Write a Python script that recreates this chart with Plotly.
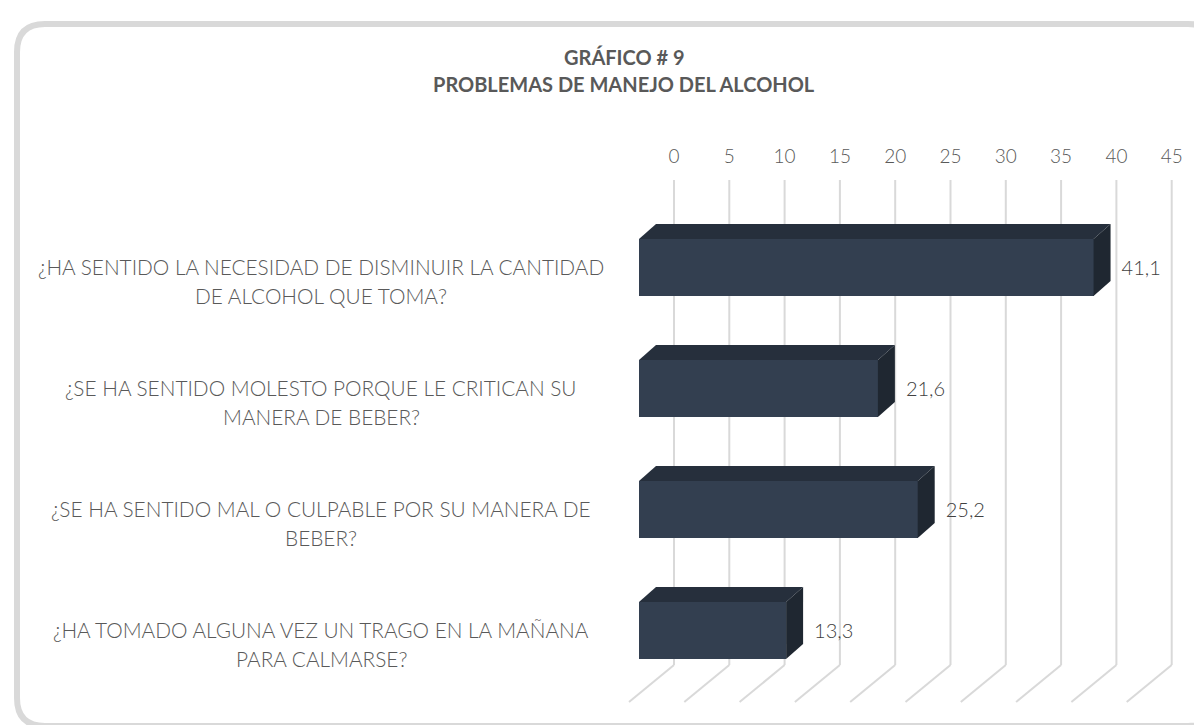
import plotly.graph_objects as go

# ---------------- data ----------------
categories = [
    "¿HA SENTIDO LA NECESIDAD DE DISMINUIR LA CANTIDAD<br>DE ALCOHOL QUE TOMA?",
    "¿SE HA SENTIDO MOLESTO PORQUE LE CRITICAN SU<br>MANERA DE BEBER?",
    "¿SE HA SENTIDO MAL O CULPABLE POR SU MANERA DE<br>BEBER?",
    "¿HA TOMADO ALGUNA VEZ UN TRAGO EN LA MAÑANA<br>PARA CALMARSE?",
]
values = [41.1, 21.6, 25.2, 13.3]
value_labels = ["41,1", "21,6", "25,2", "13,3"]
tick_values = [0, 5, 10, 15, 20, 25, 30, 35, 40, 45]
title_line1 = "GRÁFICO # 9"
title_line2 = "PROBLEMAS DE MANEJO DEL ALCOHOL"

# ---------------- geometry (pixel based pseudo-3D) ----------------
W, H = 1202, 725
TOP = 160                 # plot area top (px)
PXU = 11.06               # px per value unit on back wall
X0 = 666                  # px of value 0 on back wall
ROWPX = 121               # px between categories
ROW0 = 259.5              # px centre of first bar front face

def ux(px):
    return px / PXU

def uy(px):
    return px / ROWPX

xr = [(0 - X0) / PXU, (W - X0) / PXU]
yr = [(H - ROW0) / ROWPX, (TOP - ROW0) / ROWPX]

FONT = "Lato, 'Open Sans', sans-serif"
GRID = "#D9D9D9"
FRONT = "#333F50"
TOPC = "#262F3C"
SIDE = "#1F2731"
TXT = "#595959"

rows = list(range(len(values)))

fig = go.Figure()

# gridlines (drawn below traces): back wall verticals + floor diagonals
for t in tick_values:
    fig.add_shape(type="line", xref="x", yref="y", x0=t, x1=t,
                  y0=uy(172 - ROW0), y1=uy(657 - ROW0),
                  line=dict(color=GRID, width=2), layer="below")
    fig.add_shape(type="line", xref="x", yref="y", x0=t, x1=t - ux(45),
                  y0=uy(657 - ROW0), y1=uy(694 - ROW0),
                  line=dict(color=GRID, width=2), layer="below")

front_base = -ux(35)
d = ux(17)
dd = uy(15)
h = uy(57) / 2

# front faces
fig.add_trace(go.Bar(orientation="h", x=values, y=rows, base=front_base, width=2 * h,
                     marker=dict(color=FRONT, line=dict(width=0)), showlegend=False,
                     hoverinfo="skip"))

# top & side faces
for r, v in zip(rows, values):
    fl = front_base
    fig.add_trace(go.Scatter(
        x=[fl, fl + d, fl + d + v, fl + v, fl],
        y=[r - h, r - h - dd, r - h - dd, r - h, r - h],
        mode="lines", fill="toself", fillcolor=TOPC, line=dict(width=0, color=TOPC),
        hoverinfo="skip", showlegend=False))
    fig.add_trace(go.Scatter(
        x=[fl + v, fl + v + d, fl + v + d, fl + v, fl + v],
        y=[r - h, r - h - dd, r + h - dd, r + h, r - h],
        mode="lines", fill="toself", fillcolor=SIDE, line=dict(width=0, color=SIDE),
        hoverinfo="skip", showlegend=False))

# value labels
fig.add_trace(go.Scatter(
    x=[front_base + d + v + ux(11) for v in values], y=[r + uy(2) for r in rows],
    mode="text", text=value_labels, textposition="middle right",
    textfont=dict(family=FONT, size=20, color="#404040", weight=300),
    hoverinfo="skip", showlegend=False, cliponaxis=False))

# category labels (two lines each, centred)
for r, c in zip(rows, categories):
    lines = c.split("<br>")
    for i, ln in enumerate(lines):
        fig.add_annotation(x=313 / W, xref="paper", y=r + uy(-1 + 29 * i), yref="y", text=ln,
                           showarrow=False, xanchor="center", yanchor="middle", align="center",
                           font=dict(family=FONT, size=20.8, color=TXT, weight=300))

def py(p):
    return (H - p) / (H - TOP)

fig.add_annotation(x=616 / W, xref="paper", y=py(49), yref="paper", text="<b>" + title_line1 + "</b>",
                   showarrow=False, xanchor="center", yanchor="middle",
                   font=dict(family=FONT, size=20, color=TXT))
fig.add_annotation(x=616 / W, xref="paper", y=py(76), yref="paper", text="<b>" + title_line2 + "</b>",
                   showarrow=False, xanchor="center", yanchor="middle",
                   font=dict(family=FONT, size=20, color=TXT))

# rounded outer border
L, T, R, B, RAD = 9, 16, 1208, 718, 28
def P(x, y):
    return f"{x / W:.5f},{py(y):.5f}"
path = (f"M {P(L + RAD, T)} L {P(R - RAD, T)} Q {P(R, T)} {P(R, T + RAD)} "
        f"L {P(R, B - RAD)} Q {P(R, B)} {P(R - RAD, B)} L {P(L + RAD, B)} "
        f"Q {P(L, B)} {P(L, B - RAD)} L {P(L, T + RAD)} Q {P(L, T)} {P(L + RAD, T)} Z")
fig.add_shape(type="path", path=path, xref="paper", yref="paper",
              line=dict(color=GRID, width=6), fillcolor="rgba(0,0,0,0)", layer="below")

fig.update_layout(
    width=W, height=H, margin=dict(l=0, r=0, t=TOP, b=0),
    paper_bgcolor="white", plot_bgcolor="white", showlegend=False,
    xaxis=dict(range=xr, side="top", tickvals=tick_values, ticktext=[str(t) for t in tick_values],
               showgrid=False, zeroline=False, showline=False, ticks="",
               tickfont=dict(family=FONT, size=19, color=TXT, weight=300), fixedrange=True),
    yaxis=dict(range=yr, showgrid=False, zeroline=False, showline=False, showticklabels=False,
               fixedrange=True),
    bargap=0,
)

fig.write_html("out.html")
